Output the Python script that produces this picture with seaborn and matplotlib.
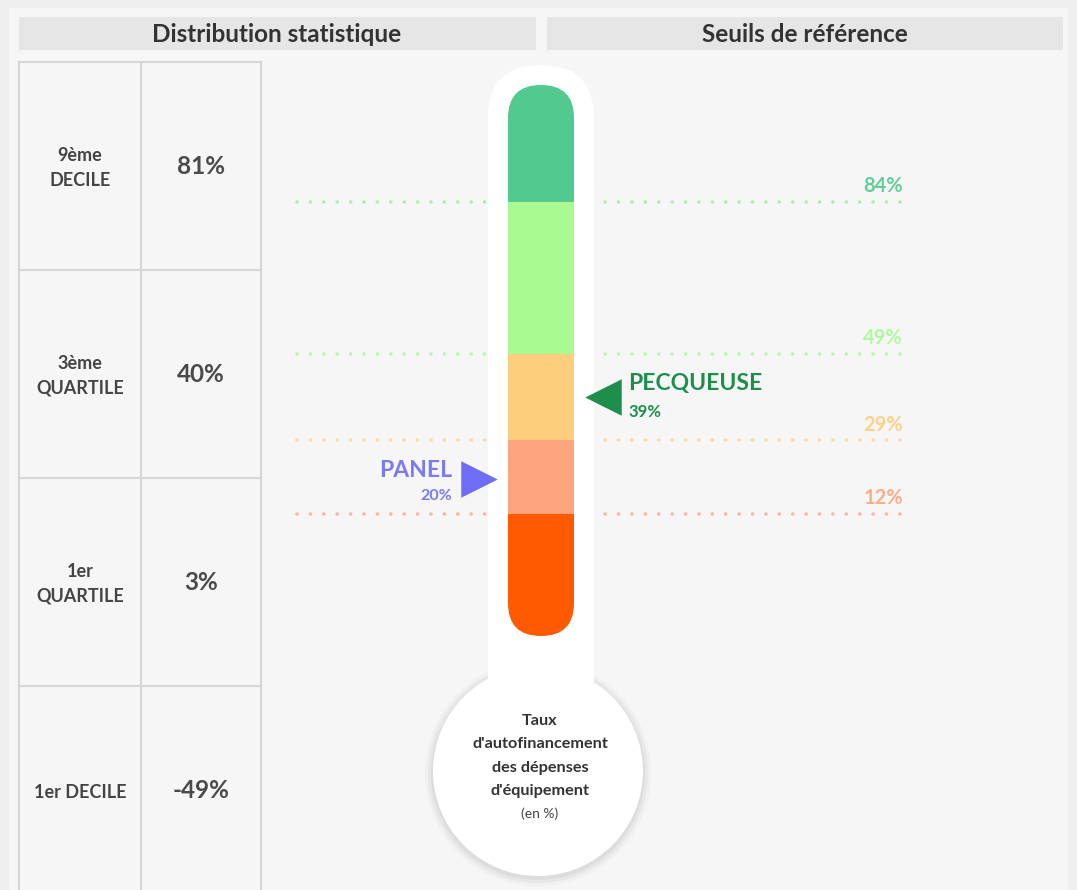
import matplotlib.pyplot as plt
import seaborn as sns
import pandas as pd
from matplotlib.patches import FancyBboxPatch, Circle, Rectangle

# --- data ---
stat_labels = ["9ème\nDECILE", "3ème\nQUARTILE", "1er\nQUARTILE", "1er DECILE"]
stat_values = [81, 40, 3, -49]
thresholds = [84, 49, 29, 12]
threshold_colors = ["#52C98F", "#A8FA91", "#FDCE7C", "#FCA57E"]
line_colors = ["#B2EDB0", "#BDF5B0", "#FBDA9C", "#F8B7A6"]
bottom_color = "#FF5A00"
marker_names = ["PECQUEUSE", "PANEL"]
marker_values = [39, 20]
marker_colors = ["#1E8E4C", "#6D6DF6"]
marker_sides = ["right", "left"]
bulb_lines = ["Taux", "d'autofinancement", "des dépenses", "d'équipement"]

W, H = 1077, 890
# scale of thermometer: value axis limits so that 84 -> y=202px, 12 -> y=514px
px_per_pct = 312 / 72
v_top = 84 + 202 / px_per_pct
v_bot = 84 - (H - 202) / px_per_pct
tube_top, tube_bottom = 111, -16.2

sns.set_theme(style="white")
plt.rcParams['font.family'] = ['Lato', 'DejaVu Sans']

fig = plt.figure(figsize=(W / 100, H / 100), dpi=100, facecolor="#EFEFEF")
ax = fig.add_axes([0, 0, 1, 1])
ax.set_xlim(0, W)
ax.set_ylim(H, 0)
ax.axis('off')

ax_t = fig.add_axes([0, 0, 1, 1], zorder=2)
ax_t.set_facecolor('none')

# panel background and headers
ax.add_patch(Rectangle((9, 8), 1059, 890, fc="#F6F6F6", ec="none"))
ax.add_patch(Rectangle((19, 17), 517, 33, fc="#E6E6E6", ec="none"))
ax.add_patch(Rectangle((547, 17), 516, 33, fc="#E6E6E6", ec="none"))
ax.text(277, 35, "Distribution statistique", ha="center", va="center",
        fontsize=17.5, fontweight="bold", color="#333333")
ax.text(805, 35, "Seuils de référence", ha="center", va="center",
        fontsize=17.5, fontweight="bold", color="#333333")

# statistics table
grid = "#D6D6D6"
for x in [19, 141, 261]:
    ax.plot([x, x], [62, H], color=grid, lw=1.5)
row_edges = [62, 270, 478, 686, 894]
for y in row_edges[:-1]:
    ax.plot([19, 261], [y, y], color=grid, lw=1.5)
for i, (lab, val) in enumerate(zip(stat_labels, stat_values)):
    yc = (row_edges[i] + row_edges[i + 1]) / 2
    ax.text(80, yc + 2, lab, ha="center", va="center", fontsize=13,
            fontweight="bold", color="#444444", linespacing=1.55)
    ax.text(201, yc, f"{val}%", ha="center", va="center", fontsize=17.5,
            fontweight="bold", color="#4A4A4A")

# thermometer body (pixel coordinates)
tx = ax.transData
for r, a in [(113, 0.025), (110, 0.035), (107, 0.045)]:
    ax_t.add_patch(Circle((538, 773), r, fc="black", alpha=a, ec="none",
                          transform=tx, zorder=1.5))
ax_t.add_patch(FancyBboxPatch((488, 65), 106, 700,
                              boxstyle="round,pad=0,rounding_size=53",
                              fc="white", ec="none", transform=tx, zorder=2))
ax_t.add_patch(Circle((538, 771), 105, fc="white", ec="none",
                      transform=tx, zorder=2))

# dotted reference lines and labels
for v, c, lc in zip(thresholds, threshold_colors, line_colors):
    ax_t.plot([297, 903], [v, v], color=lc, lw=2.6,
              linestyle=(0, (0.01, 3.7)), dash_capstyle="round", zorder=1)
    ax_t.annotate(f"{v}%", xy=(903, v), xytext=(0, 7), textcoords="offset points",
                  ha="right", va="baseline", fontsize=14.5, fontweight="bold",
                  color=c, alpha=0.9, zorder=3)

# coloured segments
edges = [tube_top] + thresholds + [tube_bottom]
colors = threshold_colors + [bottom_color]
clip = FancyBboxPatch((508, 85), 66, 551, boxstyle="round,pad=0,rounding_size=33",
                      transform=tx)
bars = ax_t.bar([541] * len(colors),
                [edges[i] - edges[i + 1] for i in range(len(colors))],
                bottom=edges[1:], width=66, color=colors, lw=0, zorder=3)
for b in bars:
    b.set_clip_path(clip)

# position markers
mk = pd.DataFrame({"name": marker_names, "value": marker_values,
                   "color": marker_colors,
                   "x": [622 - 19 if s == "right" else 460 + 19 for s in marker_sides],
                   "marker": ["<" if s == "right" else ">" for s in marker_sides]})
for _, row in mk.iterrows():
    c = row.color
    sns.scatterplot(x=[row.x], y=[row.value], marker=row.marker, s=690,
                    color=c, linewidth=0, ax=ax_t, zorder=4)
    if row.marker == "<":
        ax_t.annotate(row["name"], xy=(628, row.value), xytext=(0, 10),
                      textcoords="offset points", ha="left", va="center",
                      fontsize=16.5, fontweight="bold", color=c)
        ax_t.annotate(f"{row.value}%", xy=(628, row.value), xytext=(0, -11),
                      textcoords="offset points", ha="left", va="center",
                      fontsize=12, fontweight="bold", color=c)
    else:
        ax_t.annotate(row["name"], xy=(452, row.value), xytext=(0, 6.5),
                      textcoords="offset points", ha="right", va="center",
                      fontsize=16.5, fontweight="bold", color=c, alpha=0.9)
        ax_t.annotate(f"{row.value}%", xy=(452, row.value), xytext=(0, -12),
                      textcoords="offset points", ha="right", va="center",
                      fontsize=11.5, fontweight="bold", color=c, alpha=0.9)

ax_t.set_xlim(0, W)
ax_t.set_ylim(v_bot, v_top)
ax_t.axis('off')

# bulb caption (drawn above the thermometer)
for i, line in enumerate(bulb_lines):
    ax_t.text(540, 721 + 23.3 * i, line, ha="center", va="center", fontsize=11.7,
              fontweight="bold", color="#333333", zorder=5, transform=tx)
ax_t.text(540, 814, "(en %)", ha="center", va="center", fontsize=10,
          color="#444444", zorder=5, transform=tx)

fig.savefig("out.png", dpi=100, facecolor=fig.get_facecolor())
